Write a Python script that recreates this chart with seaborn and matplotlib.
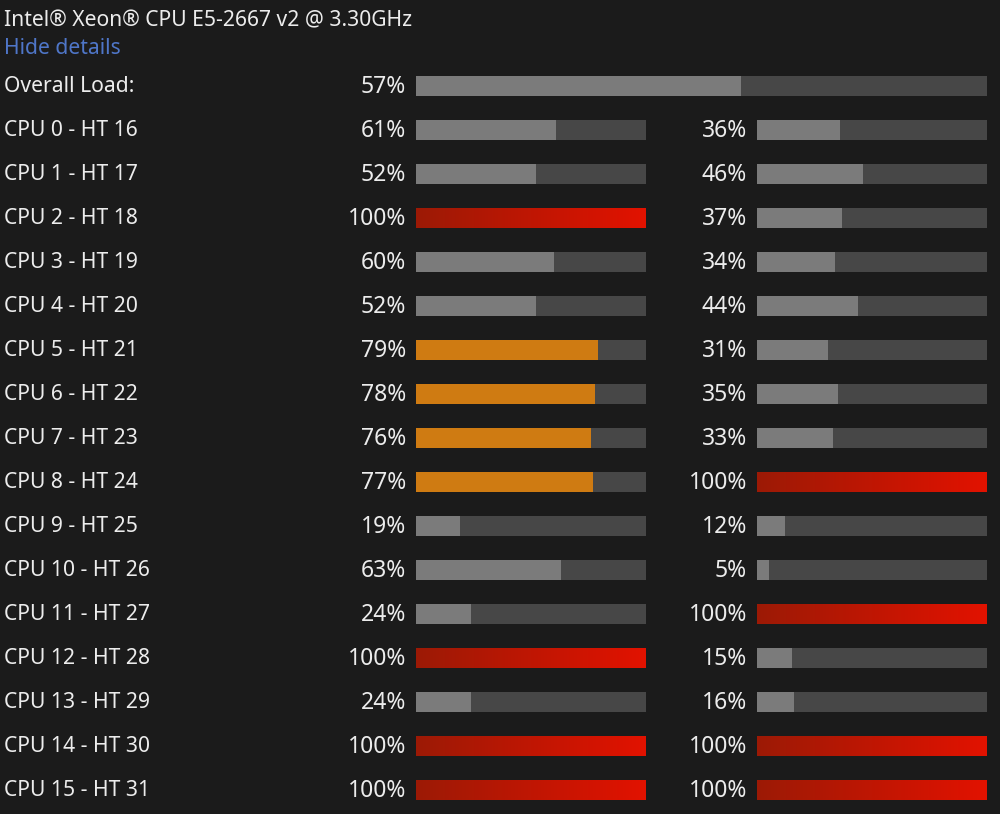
import numpy as np
import pandas as pd
import seaborn as sns
import matplotlib.pyplot as plt
from matplotlib.colors import LinearSegmentedColormap

title = "Intel® Xeon® CPU E5-2667 v2 @ 3.30GHz"
link_text = "Hide details"
overall_label = "Overall Load:"
overall_load = 57

cpu_names = ["CPU 0 - HT 16", "CPU 1 - HT 17", "CPU 2 - HT 18", "CPU 3 - HT 19",
             "CPU 4 - HT 20", "CPU 5 - HT 21", "CPU 6 - HT 22", "CPU 7 - HT 23",
             "CPU 8 - HT 24", "CPU 9 - HT 25", "CPU 10 - HT 26", "CPU 11 - HT 27",
             "CPU 12 - HT 28", "CPU 13 - HT 29", "CPU 14 - HT 30", "CPU 15 - HT 31"]
core_load = [61, 52, 100, 60, 52, 79, 78, 76, 77, 19, 63, 24, 100, 24, 100, 100]
ht_load = [36, 46, 37, 34, 44, 31, 35, 33, 100, 12, 5, 100, 15, 16, 100, 100]

BG = "#1b1b1b"
TRACK = "#474747"
GRAY = "#7b7b7b"
ORANGE = "#cf7b12"
TEXT = "#ececec"
LINK = "#4f76c8"
red_cmap = LinearSegmentedColormap.from_list("hot", ["#9c1a06", "#e21200"])

sns.set_theme(style="dark")
plt.rcParams["font.family"] = ["Noto Sans", "DejaVu Sans"]
FS = 15.2
FS_PCT = 16.5

W, H = 1000, 814
fig = plt.figure(figsize=(W / 100, H / 100), dpi=100, facecolor=BG)


def px_axes(x0, x1, y0, y1):
    return fig.add_axes([x0 / W, 1 - y1 / H, (x1 - x0) / W, (y1 - y0) / H])


def load_color(v):
    if v >= 90:
        return "red"
    if v >= 75:
        return ORANGE
    return GRAY


def draw_bars(ax, names, values, label_names=True):
    df = pd.DataFrame({"name": names, "value": values, "full": 100})
    pal = {n: load_color(v) for n, v in zip(names, values)}
    sns.barplot(data=df, x="full", y="name", orient="h", color=TRACK,
                saturation=1, width=0.45, ax=ax)
    sns.barplot(data=df, x="value", y="name", hue="name", palette=pal,
                orient="h", saturation=1, width=0.45, legend=False, ax=ax)
    fg = ax.patches[len(names):]
    grad = np.linspace(0, 1, 256).reshape(1, -1)
    for p, v in zip(fg, values):
        p.set_linewidth(0)
        if v >= 90:
            x, y, w, h = p.get_x(), p.get_y(), p.get_width(), p.get_height()
            p.set_facecolor("#9c1a06")
            ax.imshow(grad, cmap=red_cmap, aspect="auto",
                      extent=[x, x + w, y + h, y], clip_path=p, zorder=3)
    for p in ax.patches[:len(names)]:
        p.set_linewidth(0)
    ax.set_xlim(0, 100)
    ax.set_ylim(len(names) - 0.5, -0.5)
    ax.set_facecolor(BG)
    ax.axis("off")
    for i, (n, v) in enumerate(zip(names, values)):
        ax.annotate(f"{v}%", xy=(0, i), xycoords=("axes fraction", "data"),
                    xytext=(-7.2, -0.5), textcoords="offset points",
                    ha="right", va="center", color=TEXT, fontsize=FS_PCT)
        if label_names:
            ax.annotate(n, xy=(0.004, i), xycoords=("figure fraction", "data"),
                        xytext=(0, -0.5), textcoords="offset points",
                        ha="left", va="center", color=TEXT, fontsize=FS)


ax_all = px_axes(416, 987, 64, 108)
draw_bars(ax_all, [overall_label], [overall_load])

ax_core = px_axes(416, 646, 108, 812)
draw_bars(ax_core, cpu_names, core_load)

ax_ht = px_axes(757, 987, 108, 812)
draw_bars(ax_ht, [n + " HT" for n in cpu_names], ht_load, label_names=False)

fig.text(0.004, 1 - 21 / H, title, ha="left", va="center", color=TEXT, fontsize=FS)
fig.text(0.004, 1 - 49 / H, link_text, ha="left", va="center", color=LINK, fontsize=FS)

fig.savefig("out.png", dpi=100, facecolor=BG)
